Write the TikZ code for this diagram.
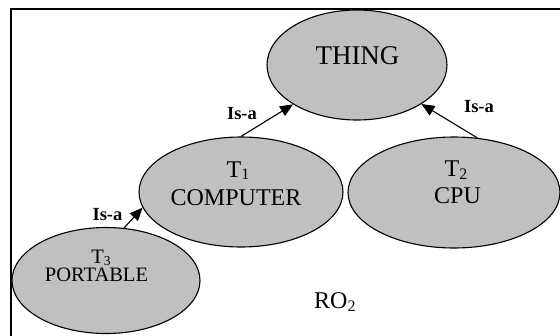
\documentclass[tikz,border=0pt]{standalone}
\usepackage{fontspec}
\setmainfont{Liberation Serif}
\usetikzlibrary{shapes.geometric,arrows.meta}
\definecolor{ovalgray}{RGB}{192,192,192}
\newcommand{\lowsub}[3]{\raisebox{-#1}{\fontsize{#2}{#2}\selectfont #3}}
\tikzset{
  oval/.style={ellipse, draw=black, line width=1.1pt, fill=ovalgray, inner sep=0pt},
  txt/.style={anchor=base, inner sep=0pt, font=\fontsize{24}{28}\selectfont},
  isa/.style={anchor=base, inner sep=0pt, font=\fontsize{18.5}{20}\selectfont\bfseries},
  isaarrow/.style={line width=1.1pt, -{Triangle[length=13pt,width=11pt]}, shorten >=0pt}
}
\begin{document}
\begin{tikzpicture}[x=1pt,y=-1pt]
\clip (0,0) rectangle (560,335);
\fill[white] (0,0) rectangle (560,335);
\draw[line width=1.8pt] (10.7,345) -- (10.7,9) -- (570,9);
\node[oval, minimum width=180pt, minimum height=110pt] (thing) at (357,65) {};
\node[oval, minimum width=204pt, minimum height=110pt] (comp) at (241,192) {};
\node[oval, minimum width=212pt, minimum height=111pt] (cpu) at (454,192.5) {};
\node[oval, minimum width=188pt, minimum height=106pt] (port) at (106,280.5) {};
\node[txt, font=\fontsize{27}{30}\selectfont] (thingT) at (357.5,64) {THING};
\node[txt] (compA) at (238,177) {T\lowsub{2.8pt}{16}{1}};
\node[txt] (compB) at (236,205) {COMPUTER};
\node[txt] (cpuA) at (456,176.7) {T\lowsub{2.8pt}{16}{2}};
\node[txt] (cpuB) at (457.5,203.3) {CPU};
\node[txt, font=\fontsize{20.5}{24}\selectfont] (portA) at (101,263.3) {T\lowsub{2.2pt}{13.5}{3}};
\node[txt, font=\fontsize{20.5}{24}\selectfont] (portB) at (96.5,281.7) {PORTABLE};
\node[txt, anchor=base west] (ro) at (314,308.3) {RO\lowsub{2.8pt}{16}{2}};
\node[isa] (isa1) at (242,119) {Is-a};
\node[isa] (isa2) at (479,112) {Is-a};
\node[isa] (isa3) at (107.5,220.5) {Is-a};
\draw[isaarrow] (comp.north) -- (thing);
\draw[isaarrow] (cpu.67) -- (thing);
\draw[isaarrow] (port.71) -- (comp.189);
\end{tikzpicture}
\end{document}
